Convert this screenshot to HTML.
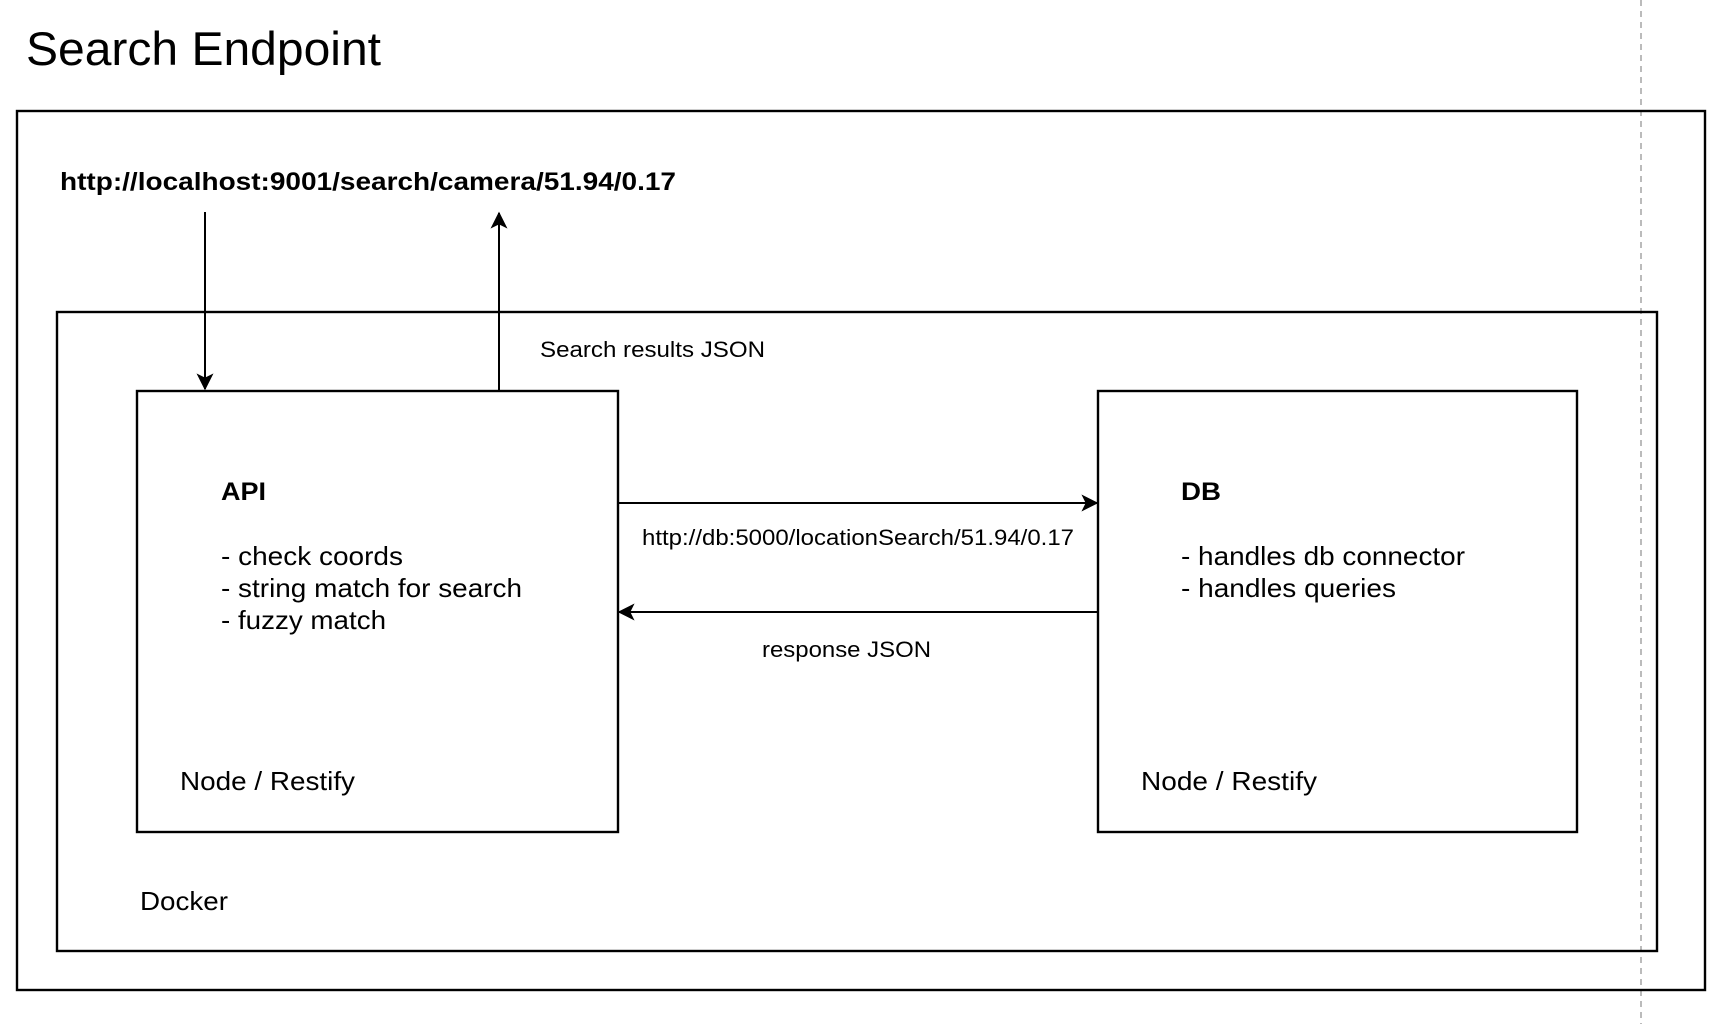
<!DOCTYPE html>
<html><head><meta charset="utf-8"><style>html,body{margin:0;padding:0;background:#fff;}svg{display:block}</style></head>
<body>
<svg width="1724" height="1024" viewBox="0 0 1724 1024" xmlns="http://www.w3.org/2000/svg" font-family="Liberation Sans, Helvetica, Arial, sans-serif">
<defs>
<marker id="a" viewBox="0 0 12 12" refX="11" refY="6" markerWidth="17" markerHeight="17" markerUnits="userSpaceOnUse" orient="auto">
<path d="M0,0 L12,6 L0,12 L3,6 Z" fill="#000"/>
</marker>
</defs>
<rect width="1724" height="1024" fill="#fff"/>
<line x1="1641" y1="0" x2="1641" y2="1024" stroke="#bbb" stroke-width="2" stroke-dasharray="6,5"/>
<text x="26" y="65" font-size="47" textLength="355" lengthAdjust="spacingAndGlyphs">Search Endpoint</text>
<rect x="17" y="111" width="1688" height="879" fill="none" stroke="#000" stroke-width="2.4"/>
<rect x="57" y="312" width="1600" height="639" fill="none" stroke="#000" stroke-width="2.4"/>
<text x="60" y="190" font-size="25" font-weight="bold" textLength="616" lengthAdjust="spacingAndGlyphs">http://localhost:9001/search/camera/51.94/0.17</text>
<rect x="137" y="391" width="481" height="441" fill="none" stroke="#000" stroke-width="2.4"/>
<rect x="1098" y="391" width="479" height="441" fill="none" stroke="#000" stroke-width="2.4"/>
<line x1="205" y1="212" x2="205" y2="389" stroke="#000" stroke-width="2" marker-end="url(#a)"/>
<line x1="499" y1="391" x2="499" y2="213" stroke="#000" stroke-width="2" marker-end="url(#a)"/>
<line x1="618" y1="503" x2="1097" y2="503" stroke="#000" stroke-width="2" marker-end="url(#a)"/>
<line x1="1098" y1="612" x2="619" y2="612" stroke="#000" stroke-width="2" marker-end="url(#a)"/>
<text x="540" y="357" font-size="22" textLength="225" lengthAdjust="spacingAndGlyphs">Search results JSON</text>
<text x="221" y="500" font-size="25" font-weight="bold" textLength="45" lengthAdjust="spacingAndGlyphs">API</text>
<text x="221" y="565" font-size="26" textLength="182" lengthAdjust="spacingAndGlyphs">- check coords</text>
<text x="221" y="597" font-size="26" textLength="301" lengthAdjust="spacingAndGlyphs">- string match for search</text>
<text x="221" y="629" font-size="26" textLength="165" lengthAdjust="spacingAndGlyphs">- fuzzy match</text>
<text x="180" y="790" font-size="26" textLength="175" lengthAdjust="spacingAndGlyphs">Node / Restify</text>
<text x="1181" y="500" font-size="25" font-weight="bold" textLength="40" lengthAdjust="spacingAndGlyphs">DB</text>
<text x="1181" y="565" font-size="26" textLength="284" lengthAdjust="spacingAndGlyphs">- handles db connector</text>
<text x="1181" y="597" font-size="26" textLength="215" lengthAdjust="spacingAndGlyphs">- handles queries</text>
<text x="1141" y="790" font-size="26" textLength="176" lengthAdjust="spacingAndGlyphs">Node / Restify</text>
<text x="140" y="910" font-size="26" textLength="88" lengthAdjust="spacingAndGlyphs">Docker</text>
<text x="642" y="545" font-size="22" textLength="432" lengthAdjust="spacingAndGlyphs">http://db:5000/locationSearch/51.94/0.17</text>
<text x="762" y="657" font-size="22" textLength="169" lengthAdjust="spacingAndGlyphs">response JSON</text>
</svg>
</body></html>
